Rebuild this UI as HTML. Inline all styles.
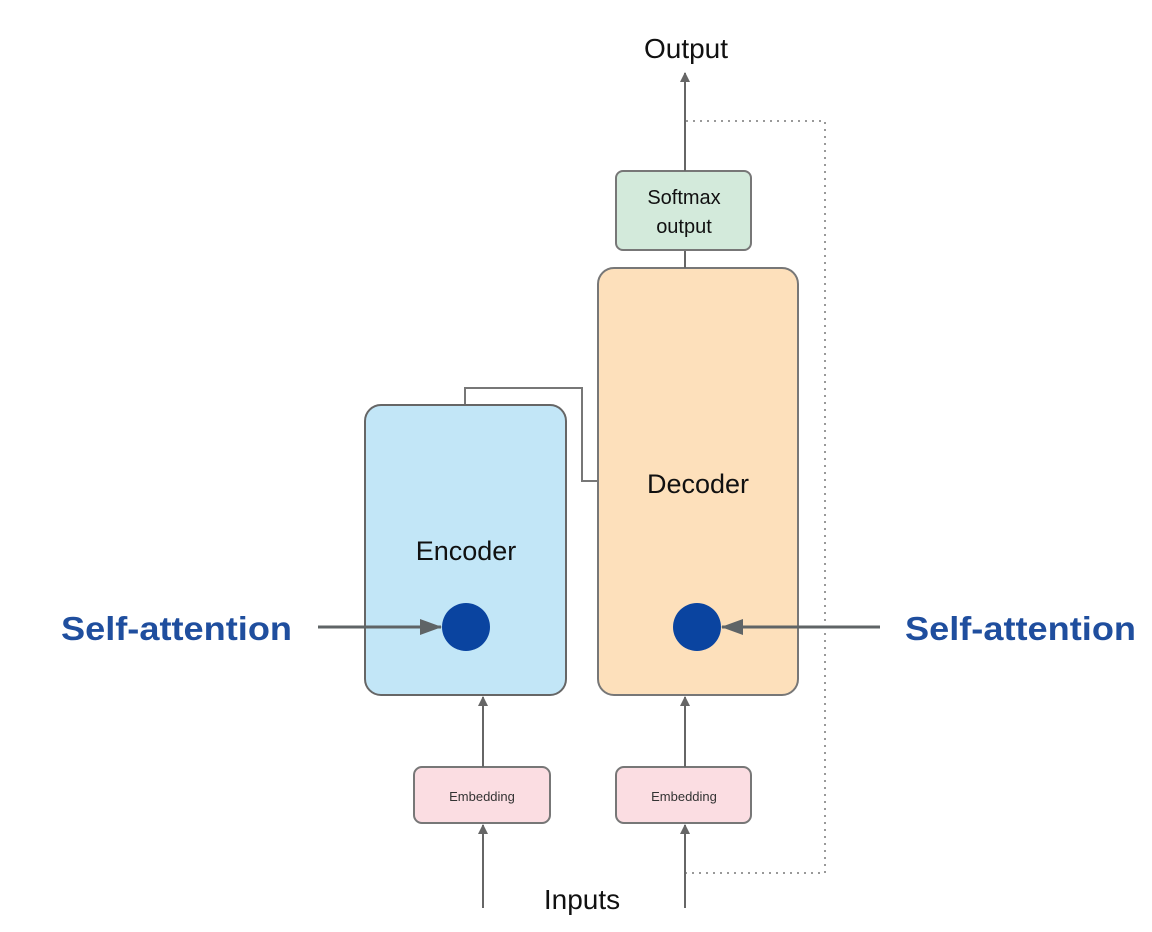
<!DOCTYPE html>
<html><head><meta charset="utf-8"><style>
html,body{margin:0;padding:0;background:#fff;}
svg{display:block;}
text{font-family:"Liberation Sans",sans-serif;}
</style></head><body>
<svg width="1152" height="932" viewBox="0 0 1152 932" xmlns="http://www.w3.org/2000/svg">
<defs>
<marker id="ah" markerWidth="10" markerHeight="10" refX="9" refY="5" orient="auto" markerUnits="userSpaceOnUse">
<path d="M0,0 L10,5 L0,10 z" fill="#666"/></marker>
<marker id="ahb" markerWidth="22" markerHeight="16" refX="21" refY="8" orient="auto" markerUnits="userSpaceOnUse">
<path d="M0,0 L22,8 L0,16 z" fill="#5f6466"/></marker>
</defs>
<rect width="1152" height="932" fill="#fff"/>
<!-- dotted feedback -->
<path d="M686,121 H825 V873 H686" fill="none" stroke="#999" stroke-width="2" stroke-dasharray="2,5"/>
<!-- connector encoder->decoder -->
<path d="M465,405 V388 H582 V481 H598" fill="none" stroke="#777" stroke-width="2"/>
<!-- encoder -->
<rect x="365" y="405" width="201" height="290" rx="16" fill="#c2e6f7" stroke="#666" stroke-width="2"/>
<text x="466" y="560" font-size="27" text-anchor="middle" fill="#111">Encoder</text>
<!-- decoder -->
<rect x="598" y="268" width="200" height="427" rx="16" fill="#fde0bb" stroke="#777" stroke-width="2"/>
<text x="698" y="493" font-size="27" text-anchor="middle" fill="#111">Decoder</text>
<!-- softmax -->
<line x1="685" y1="268" x2="685" y2="250" stroke="#666" stroke-width="2"/>
<rect x="616" y="171" width="135" height="79" rx="7" fill="#d3eadb" stroke="#777" stroke-width="2"/>
<text x="684" y="204" font-size="20" text-anchor="middle" fill="#111">Softmax</text>
<text x="684" y="233" font-size="20" text-anchor="middle" fill="#111">output</text>
<line x1="685" y1="171" x2="685" y2="73" stroke="#666" stroke-width="2" marker-end="url(#ah)"/>
<text x="686" y="58" font-size="28" text-anchor="middle" fill="#111">Output</text>
<!-- embeddings -->
<rect x="414" y="767" width="136" height="56" rx="8" fill="#fbdde2" stroke="#777" stroke-width="2"/>
<text x="482" y="801" font-size="13" text-anchor="middle" fill="#333">Embedding</text>
<rect x="616" y="767" width="135" height="56" rx="8" fill="#fbdde2" stroke="#777" stroke-width="2"/>
<text x="684" y="801" font-size="13" text-anchor="middle" fill="#333">Embedding</text>
<line x1="483" y1="767" x2="483" y2="697" stroke="#666" stroke-width="2" marker-end="url(#ah)"/>
<line x1="685" y1="767" x2="685" y2="697" stroke="#666" stroke-width="2" marker-end="url(#ah)"/>
<line x1="483" y1="908" x2="483" y2="825" stroke="#666" stroke-width="2" marker-end="url(#ah)"/>
<line x1="685" y1="908" x2="685" y2="825" stroke="#666" stroke-width="2" marker-end="url(#ah)"/>
<text x="582" y="909" font-size="28" text-anchor="middle" fill="#111">Inputs</text>
<!-- self-attention -->
<circle cx="466" cy="627" r="24" fill="#0a44a0"/>
<circle cx="697" cy="627" r="24" fill="#0a44a0"/>
<line x1="318" y1="627" x2="441" y2="627" stroke="#5f6466" stroke-width="3" marker-end="url(#ahb)"/>
<line x1="880" y1="627" x2="722" y2="627" stroke="#5f6466" stroke-width="3" marker-end="url(#ahb)"/>
<text x="61" y="640" font-size="33" font-weight="bold" fill="#1f4e9e" textLength="231" lengthAdjust="spacingAndGlyphs">Self-attention</text>
<text x="905" y="640" font-size="33" font-weight="bold" fill="#1f4e9e" textLength="231" lengthAdjust="spacingAndGlyphs">Self-attention</text>
</svg>
</body></html>
